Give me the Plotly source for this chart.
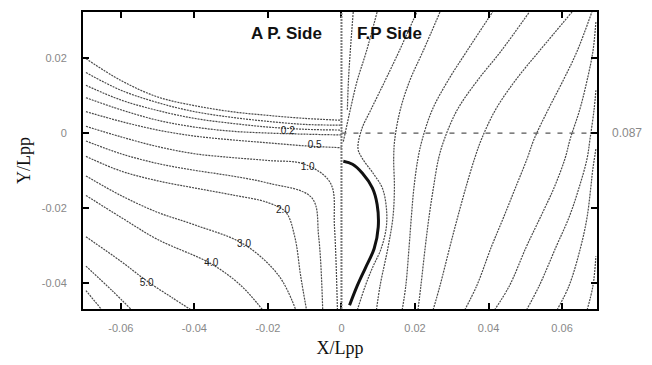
import plotly.graph_objects as go

# ---------------- data (X/Lpp, Y/Lpp) ----------------
x_ticks = [-0.06, -0.04, -0.02, 0, 0.02, 0.04, 0.06]
x_tick_text = ["-0.06", "-0.04", "-0.02", "0", "0.02", "0.04", "0.06"]
y_ticks = [-0.04, -0.02, 0, 0.02]
y_tick_text = ["-0.04", "-0.02", "0", "0.02"]

# A.P. side contour lines
gx = [-0.0695, -0.06, -0.05, -0.04, -0.03, -0.02, -0.01, 0.0]
L1_y = [0.0198, 0.0140, 0.0096, 0.0073, 0.0057, 0.0047, 0.0039, 0.0034]
L2_y = [0.0161, 0.0114, 0.0081, 0.0057, 0.0042, 0.0031, 0.0023, 0.0021]
L3_y = [0.0127, 0.0088, 0.0060, 0.0039, 0.0026, 0.0016, 0.0010, 0.0008]
L4_y = [0.0094, 0.0062, 0.0034, 0.0016, 0.0005, 0.0, -0.0003, -0.0005]
L5_y = [0.0057, 0.0031, 0.0008, -0.0008, -0.0018, -0.0026, -0.0034, -0.0039]
L6_x = [-0.0695, -0.06, -0.05, -0.04, -0.03, -0.02, -0.01, -0.003, -0.0019, -0.0011]
L6_y = [0.0018, -0.0010, -0.0036, -0.0055, -0.0065, -0.0073, -0.0083, -0.0133, -0.0250, -0.0471]
L7_x = [-0.0695, -0.06, -0.05, -0.04, -0.03, -0.02, -0.0081, -0.0062, -0.0051]
L7_y = [-0.0021, -0.0055, -0.0081, -0.0099, -0.0114, -0.0133, -0.0172, -0.0276, -0.0471]
L8_x = [-0.0695, -0.06, -0.05, -0.04, -0.03, -0.02, -0.0151, -0.0127, -0.0111, -0.0095]
L8_y = [-0.0062, -0.0101, -0.0127, -0.0146, -0.0164, -0.0185, -0.0211, -0.0276, -0.0380, -0.0471]
L9_x = [-0.0695, -0.06, -0.05, -0.04, -0.0265, -0.0170, -0.0124]
L9_y = [-0.0114, -0.0166, -0.0211, -0.0244, -0.0296, -0.0380, -0.0471]
L10_x = [-0.0695, -0.06, -0.05, -0.0354, -0.0273, -0.0214]
L10_y = [-0.0166, -0.0224, -0.0283, -0.0348, -0.0406, -0.0471]
L11_x = [-0.0695, -0.06, -0.053, -0.0462, -0.0408]
L11_y = [-0.0276, -0.0341, -0.0393, -0.0437, -0.0471]
L12_x = [-0.0695, -0.0624, -0.057]
L12_y = [-0.0354, -0.0419, -0.0471]
L13_x = [-0.0695, -0.0651]
L13_y = [-0.0419, -0.0471]

# F.P. side contour lines
gy = [-0.0471, -0.0406, -0.0302, -0.0224, -0.0146, -0.0068, -0.0016, 0.0062, 0.0140, 0.0218, 0.0322]
R1_x = [0.0016, 0.0019, 0.0024, 0.0032]
R1_y = [0.0062, 0.0140, 0.0218, 0.0322]
R2_x = [0.0005, 0.0024, 0.0043, 0.0068, 0.0097]
R2_y = [-0.0023, 0.0062, 0.0140, 0.0218, 0.0322]
R3_x = [0.0043, 0.0065, 0.0084, 0.0108, 0.0122, 0.0122, 0.0111, 0.0086, 0.0057, 0.0045,
        0.0055, 0.0080, 0.0119, 0.0157, 0.0205]
R3_y = [-0.0471, -0.0406, -0.0359, -0.0307, -0.0250, -0.0198, -0.0146, -0.0107, -0.0068, -0.0042,
        0.0010, 0.0062, 0.0140, 0.0218, 0.0322]
R4_x = [0.0095, 0.0105, 0.0127, 0.0140, 0.0144, 0.0142, 0.0145, 0.0160, 0.0186, 0.0222, 0.0268]
R5_x = [0.0165, 0.0175, 0.0184, 0.0190, 0.0197, 0.0208, 0.0220, 0.0247, 0.0290, 0.0341, 0.0411]
R5b_x = [0.0208, 0.0216, 0.0228, 0.0238, 0.0250, 0.0264, 0.0280, 0.0315, 0.0370, 0.0434, 0.0511]
R6_x = [0.0249, 0.0268, 0.0295, 0.0316, 0.0338, 0.0362, 0.0381, 0.0419, 0.0473, 0.0538, 0.0627]
R7_x = [0.0335, 0.0368, 0.0408, 0.0441, 0.0473, 0.0505, 0.0524, 0.0562, 0.0603, 0.0641, 0.0681]
R8_x = [0.0416, 0.0457, 0.0503, 0.0541, 0.0578, 0.0608, 0.0622, 0.0648, 0.0668, 0.0684, 0.0692]
R8_y = [-0.0471, -0.0406, -0.0302, -0.0224, -0.0146, -0.0068, -0.0016, 0.0062, 0.0140, 0.0218, 0.0296]
R9_x = [0.0503, 0.0538, 0.0584, 0.0619, 0.0646, 0.0668, 0.0676, 0.0687, 0.0692]
R9_y = [-0.0471, -0.0406, -0.0302, -0.0224, -0.0146, -0.0068, -0.0016, 0.0062, 0.0114]
R10_x = [0.0586, 0.0619, 0.0651, 0.0668, 0.0678, 0.0683, 0.0692]
R10_y = [-0.0471, -0.0406, -0.0302, -0.0224, -0.0146, -0.0101, -0.0042]
R11_x = [0.0668, 0.0684, 0.0692]
R11_y = [-0.0471, -0.0406, -0.0328]

# bold curve on F.P. side
bold_x = [0.0005, 0.0030, 0.0057, 0.0084, 0.0097, 0.0100, 0.0089, 0.0065, 0.0043, 0.0022]
bold_y = [-0.0075, -0.0083, -0.0107, -0.0146, -0.0190, -0.0250, -0.0307, -0.0359, -0.0406, -0.0458]

# contour labels
lab_text = ["0.2", "0.5", "1.0", "2.0", "3.0", "4.0", "5.0"]
lab_x = [-0.0146, -0.0073, -0.0092, -0.0159, -0.0265, -0.0354, -0.0530]
lab_y = [0.0005, -0.0034, -0.0091, -0.0205, -0.0296, -0.0348, -0.0400]

# dashed reference line (F.P. side)
ref_x = [0.0, 0.0695]
ref_y = [0.0, 0.0]
ref_label = "0.087"

lines = [
    (gx, L1_y), (gx, L2_y), (gx, L3_y), (gx, L4_y), (gx, L5_y),
    (L6_x, L6_y), (L7_x, L7_y), (L8_x, L8_y), (L9_x, L9_y), (L10_x, L10_y),
    (L11_x, L11_y), (L12_x, L12_y), (L13_x, L13_y),
    (R1_x, R1_y), (R2_x, R2_y), (R3_x, R3_y), (R4_x, gy), (R5_x, gy), (R5b_x, gy),
    (R6_x, gy), (R7_x, gy), (R8_x, R8_y), (R9_x, R9_y), (R10_x, R10_y), (R11_x, R11_y),
]

fig = go.Figure()
for lx, ly in lines:
    fig.add_trace(go.Scatter(x=lx, y=ly, mode="lines", line_shape="spline",
                             line=dict(color="#4a4a4a", width=1.2, dash="2px,1px"),
                             hoverinfo="skip", showlegend=False))

fig.add_trace(go.Scatter(x=ref_x, y=ref_y, mode="lines",
                         line=dict(color="#555555", width=1.2, dash="5px,7px"),
                         showlegend=False))
fig.add_trace(go.Scatter(x=bold_x, y=bold_y, mode="lines", line_shape="spline",
                         line=dict(color="#111111", width=3), showlegend=False))
fig.add_trace(go.Scatter(x=lab_x, y=lab_y, mode="text", text=lab_text,
                         textfont=dict(family="Arial", size=10, color="#222222"),
                         showlegend=False))

fig.add_shape(type="line", x0=0, x1=0, y0=0, y1=1, xref="x", yref="paper",
              line=dict(color="#7a7a7a", width=2, dash="2px,1px"))

fig.add_annotation(x=-0.0149, y=0.0265, text="<b>A P. Side</b>", showarrow=False,
                   font=dict(family="Arial", size=17, color="#111111"))
fig.add_annotation(x=0.0130, y=0.0265, text="<b>F.P Side</b>", showarrow=False,
                   font=dict(family="Arial", size=17, color="#111111"))
fig.add_annotation(x=1.025, xref="paper", xanchor="left", y=0, yref="y", text=ref_label,
                   showarrow=False, font=dict(family="Arial", size=12, color="#888888"))

fig.update_layout(
    width=652, height=365,
    margin=dict(l=83, r=55, t=10, b=50),
    paper_bgcolor="white", plot_bgcolor="white",
    font=dict(family="Arial", size=11, color="#888888"),
)
fig.update_xaxes(range=[-0.0703, 0.0695], tickvals=x_ticks, ticktext=x_tick_text,
                 showgrid=False, zeroline=False, showline=True, linecolor="black",
                 linewidth=2, mirror="ticks", ticks="inside", ticklen=6, tickwidth=2,
                 tickcolor="black", ticklabelstandoff=8,
                 title=dict(text="X/Lpp", standoff=8,
                            font=dict(family="Liberation Serif", size=18, color="#111111")))
fig.update_yaxes(range=[-0.0468, 0.0322], tickvals=y_ticks, ticktext=y_tick_text,
                 showgrid=False, zeroline=False, showline=True, linecolor="black",
                 linewidth=2, mirror="ticks", ticks="inside", ticklen=6, tickwidth=2,
                 tickcolor="black", ticklabelstandoff=12,
                 title=dict(text="Y/Lpp", standoff=6,
                            font=dict(family="Liberation Serif", size=18, color="#111111")))

fig.write_html("out.html")
